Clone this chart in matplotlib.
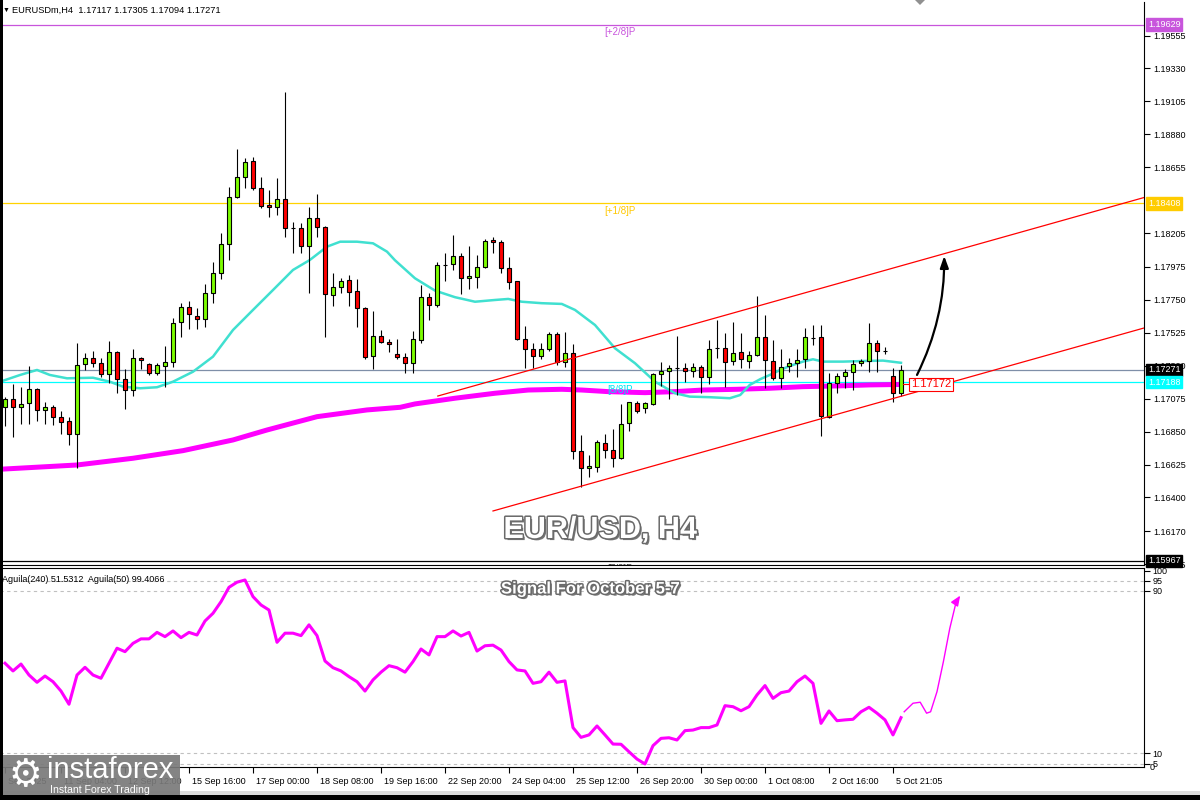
import numpy as np
import matplotlib.pyplot as plt
import matplotlib.patheffects as pe
from matplotlib.patches import Rectangle, Polygon
from matplotlib.transforms import blended_transform_factory, ScaledTranslation

plt.rcParams['font.family'] = ['Liberation Sans', 'DejaVu Sans']

# ---- H4 candles, bar index 0..112 ----
opens = [1.17016, 1.17071, 1.17016, 1.17044, 1.17139, 1.16998, 1.17016, 1.16948, 1.16923, 1.16832,
         1.17310, 1.17355, 1.17320, 1.17242, 1.17392, 1.17208, 1.17134, 1.17355, 1.17310, 1.17248,
         1.17300, 1.17328, 1.17601, 1.17703, 1.17642, 1.17617, 1.17795, 1.17931, 1.18130, 1.18455,
         1.18591, 1.18700, 1.18512, 1.18398, 1.18382, 1.18437, 1.18240, 1.18243, 1.18118, 1.18307,
         1.18246, 1.17783, 1.17840, 1.17886, 1.17811, 1.17692, 1.17367, 1.17505, 1.17464, 1.17378,
         1.17362, 1.17317, 1.17476, 1.17772, 1.17715, 1.17990, 1.17993, 1.18050, 1.17897, 1.17908,
         1.17972, 1.18159, 1.18145, 1.17966, 1.17879, 1.17483, 1.17412, 1.17369, 1.17412, 1.17517,
         1.17328, 1.17389, 1.16718, 1.16600, 1.16610, 1.16770, 1.16725, 1.16668, 1.16907, 1.17044,
         1.17009, 1.17037, 1.17244, 1.17264, 1.17283, 1.17283, 1.17266, 1.17294, 1.17225, 1.17418,
         1.17419, 1.17335, 1.17392, 1.17335, 1.17371, 1.17494, 1.17332, 1.17218, 1.17298, 1.17317,
         1.17344, 1.17490, 1.17494, 1.16948, 1.17180, 1.17232, 1.17255, 1.17317, 1.17332, 1.17453,
         1.17401, 1.17232, 1.17117]
highs = [1.17089, 1.17175, 1.17157, 1.17298, 1.17150, 1.17055, 1.17032, 1.16993, 1.16948, 1.17453,
         1.17385, 1.17401, 1.17355, 1.17469, 1.17401, 1.17278, 1.17412, 1.17362, 1.17320, 1.17320,
         1.17435, 1.17624, 1.17731, 1.17742, 1.17692, 1.17858, 1.18007, 1.18205, 1.18519, 1.18778,
         1.18717, 1.18724, 1.18591, 1.18500, 1.18580, 1.19172, 1.18280, 1.18277, 1.18386, 1.18473,
         1.18254, 1.17931, 1.17897, 1.17920, 1.17891, 1.17703, 1.17676, 1.17544, 1.17481, 1.17481,
         1.17389, 1.17537, 1.17852, 1.17799, 1.18011, 1.18068, 1.18193, 1.18072, 1.18118, 1.18057,
         1.18164, 1.18181, 1.18159, 1.18045, 1.17879, 1.17572, 1.17453, 1.17453, 1.17529, 1.17529,
         1.17529, 1.17449, 1.16827, 1.16690, 1.16793, 1.16832, 1.16866, 1.17037, 1.17055, 1.17059,
         1.17055, 1.17253, 1.17324, 1.17305, 1.17503, 1.17320, 1.17317, 1.17305, 1.17476, 1.17613,
         1.17522, 1.17601, 1.17522, 1.17403, 1.17776, 1.17647, 1.17476, 1.17412, 1.17355, 1.17412,
         1.17556, 1.17578, 1.17578, 1.17253, 1.17253, 1.17278, 1.17339, 1.17344, 1.17590, 1.17476,
         1.17430, 1.17283, 1.17305]
lows = [1.16888, 1.16815, 1.16900, 1.16900, 1.16925, 1.16900, 1.16895, 1.16832, 1.16759, 1.16600,
        1.17271, 1.17294, 1.17225, 1.17180, 1.17116, 1.17003, 1.17093, 1.17276, 1.17237, 1.17237,
        1.17153, 1.17294, 1.17498, 1.17549, 1.17549, 1.17563, 1.17727, 1.17893, 1.18022, 1.18448,
        1.18516, 1.18500, 1.18375, 1.18318, 1.18330, 1.18181, 1.18068, 1.18068, 1.17795, 1.18181,
        1.17494, 1.17708, 1.17799, 1.17708, 1.17563, 1.17344, 1.17278, 1.17453, 1.17396, 1.17344,
        1.17248, 1.17253, 1.17458, 1.17613, 1.17703, 1.17881, 1.17954, 1.17788, 1.17824, 1.17829,
        1.17966, 1.18068, 1.17931, 1.17824, 1.17476, 1.17283, 1.17287, 1.17344, 1.17403, 1.17305,
        1.17294, 1.16661, 1.16474, 1.16542, 1.16572, 1.16672, 1.16610, 1.16661, 1.16856, 1.16979,
        1.16975, 1.17032, 1.17162, 1.17071, 1.17100, 1.17191, 1.17225, 1.17112, 1.17175, 1.17351,
        1.17157, 1.17305, 1.17283, 1.17287, 1.17369, 1.17146, 1.17203, 1.17146, 1.17259, 1.17225,
        1.17283, 1.17442, 1.16820, 1.16941, 1.17116, 1.17146, 1.17134, 1.17298, 1.17259, 1.17259,
        1.17380, 1.17055, 1.17094]
closes = [1.17071, 1.17016, 1.17037, 1.17139, 1.16998, 1.17016, 1.16948, 1.16918, 1.16832, 1.17303,
          1.17355, 1.17320, 1.17242, 1.17396, 1.17208, 1.17134, 1.17355, 1.17339, 1.17248, 1.17305,
          1.17328, 1.17594, 1.17703, 1.17653, 1.17617, 1.17795, 1.17931, 1.18130, 1.18455, 1.18591,
          1.18694, 1.18512, 1.18393, 1.18382, 1.18437, 1.18239, 1.18240, 1.18118, 1.18307, 1.18246,
          1.17788, 1.17840, 1.17879, 1.17806, 1.17692, 1.17358, 1.17505, 1.17464, 1.17449, 1.17358,
          1.17317, 1.17481, 1.17768, 1.17715, 1.17988, 1.17990, 1.18050, 1.17897, 1.17913, 1.17972,
          1.18152, 1.18143, 1.17966, 1.17874, 1.17483, 1.17412, 1.17369, 1.17412, 1.17517, 1.17328,
          1.17389, 1.16718, 1.16600, 1.16615, 1.16781, 1.16725, 1.16668, 1.16900, 1.17050, 1.16993,
          1.17044, 1.17242, 1.17264, 1.17283, 1.17283, 1.17266, 1.17294, 1.17225, 1.17412, 1.17418,
          1.17328, 1.17385, 1.17344, 1.17371, 1.17494, 1.17339, 1.17218, 1.17294, 1.17317, 1.17339,
          1.17494, 1.17490, 1.16959, 1.17180, 1.17232, 1.17255, 1.17310, 1.17332, 1.17453, 1.17401,
          1.17401, 1.17112, 1.17271]

# moving averages (bar position, price)
ma_fast_x = [-0.6, 1.9, 4.0, 5.6, 7.75, 11.0, 13.1, 14.75, 16.9, 19.0, 21.0, 23.5, 26.0, 28.5, 31.0,
             33.5, 36.0, 38.1, 40.25, 41.9, 44.0, 46.0, 47.75, 48.75, 51.25, 53.75, 56.25, 58.75,
             61.25, 62.9, 64.6, 67.1, 69.6, 71.25, 73.75, 76.25, 78.75, 81.25, 83.75, 85.6, 88.1,
             90.6, 91.9, 93.1, 94.4, 95.6, 96.9, 98.1, 99.75, 101.0, 102.25, 104.75, 107.25, 109.75, 112.0]
ma_fast_y = [1.17191, 1.17237, 1.17271, 1.17237, 1.17214, 1.17218, 1.17191, 1.17157, 1.17146, 1.17153,
             1.17191, 1.17259, 1.17362, 1.17544, 1.17681, 1.17817, 1.17954, 1.18022, 1.18113, 1.18147,
             1.18147, 1.18136, 1.18079, 1.18020, 1.17897, 1.17813, 1.17768, 1.17737, 1.17749, 1.17756,
             1.17737, 1.17727, 1.17722, 1.17681, 1.17578, 1.17419, 1.17317, 1.17191, 1.17112, 1.17089,
             1.17085, 1.17078, 1.17100, 1.17169, 1.17208, 1.17237, 1.17271, 1.17298, 1.17328, 1.17344,
             1.17328, 1.17328, 1.17332, 1.17335, 1.17320]
ma_slow_x = [-0.6, 9.0, 16.0, 22.25, 28.5, 32.75, 39.0, 45.25, 49.4, 51.25, 56.25, 61.25, 65.4,
             69.6, 72.1, 75.4, 80.0, 83.75, 87.25, 91.5, 95.6, 99.75, 104.0, 108.1, 112.0]
ma_slow_y = [1.16593, 1.16622, 1.16668, 1.16720, 1.16793, 1.16861, 1.16952, 1.16998, 1.17016, 1.17039,
             1.17078, 1.17112, 1.17134, 1.17139, 1.17134, 1.17123, 1.17116, 1.17123, 1.17134, 1.17139,
             1.17146, 1.17157, 1.17162, 1.17169, 1.17172]

# oscillator (lower pane)
aguila = [54.4, 50.6, 54.0, 48.6, 45.0, 48.1, 45.3, 40.7, 34.2, 48.6,
          52.4, 48.6, 47.0, 54.4, 61.8, 60.1, 64.2, 66.4, 66.4, 69.6,
          67.5, 70.3, 67.0, 69.6, 68.3, 75.2, 79.0, 84.7, 91.8, 94.3,
          95.4, 87.2, 83.1, 80.6, 64.7, 69.2, 69.2, 68.0, 73.3, 68.0,
          55.5, 52.2, 50.6, 47.8, 45.3, 40.7, 46.2, 50.0, 53.2, 52.2,
          50.0, 55.2, 61.4, 58.5, 67.5, 67.5, 70.3, 67.8, 69.6, 60.4,
          63.0, 63.3, 60.9, 55.2, 51.1, 50.6, 44.5, 45.3, 50.0, 45.0,
          45.7, 22.7, 17.9, 19.1, 23.5, 19.1, 14.6, 14.5, 10.8, 7.2,
          4.8, 13.8, 17.4, 17.7, 16.6, 21.2, 21.5, 22.7, 22.7, 24.0,
          33.5, 33.0, 31.0, 33.0, 38.8, 43.4, 37.1, 39.9, 40.7, 45.3,
          48.1, 44.5, 24.8, 30.9, 26.1, 26.5, 26.8, 30.5, 32.7, 29.8,
          26.5, 19.1, 27.6]

# horizontal levels
level_prices = [1.19629, 1.18408, 1.17271, 1.17188, 1.15967]
level_colors = ['#C855DC', '#FFD200', '#7F8FA8', '#00FFFF', '#000000']
level_names = ['[+2/8]P', '[+1/8]P', None, '[8/8]P', '[7/8]P']
label_colors = ['#C855DC', '#FFC800', None, '#00E5EE', '#404040']
box_colors = ['#C855DC', '#FFCC00', '#000000', '#00FFFF', '#000000']

price_ticks = [1.19555, 1.19330, 1.19105, 1.18880, 1.18655, 1.18205, 1.17975, 1.17750,
               1.17525, 1.17300, 1.17075, 1.16850, 1.16625, 1.16400, 1.16170, 1.15945]

# trend channel and forecast marks
chan_upper = ([54.1, 142.4], [1.17093, 1.18449])
chan_lower = ([61.0, 142.4], [1.16308, 1.17558])
arrow_from = (114.0, 1.17237)
arrow_to = (117.4, 1.18050)
osc_path_x = [112.4, 113.5, 114.4, 115.2, 115.7, 116.5, 117.3, 118.1, 118.9]
osc_path_y = [30.5, 34.7, 35.2, 29.8, 30.5, 40.4, 55.2, 71.6, 84.7]
osc_tip = (119.4, 87.7)
ma_value = 1.17172

time_pos = [0, 7, 15, 23, 31, 39, 47, 55, 63, 71, 79, 87, 95, 103, 111]
time_labels = ['Sep 2025', '11 Sep 04:00', '12 Sep 12:00', '15 Sep 16:00', '17 Sep 00:00',
               '18 Sep 08:00', '19 Sep 16:00', '22 Sep 20:00', '24 Sep 04:00', '25 Sep 12:00',
               '26 Sep 20:00', '30 Sep 00:00', '1 Oct 08:00', '2 Oct 16:00', '5 Oct 21:05']

W, H = 1200, 800
fig = plt.figure(figsize=(12, 8), dpi=100)


def fx(px):
    return px / W


def fy(py):
    return 1 - py / H


ax = fig.add_axes([0, fy(565), fx(1144), (565 - 2) / H])
ax2 = fig.add_axes([0, fy(767), fx(1144), (767 - 568) / H])

xmin, xmax = -0.625, 142.375
ax.set_xlim(xmin, xmax)
ax.set_ylim(1.15939, 1.19784)
ax2.set_xlim(xmin, xmax)
ax2.set_ylim(3.3, 101.3)

# ---- main pane ----
for p, col in zip(level_prices, level_colors):
    ax.axhline(p, color=col, lw=0.9, zorder=1)

ax.plot(ma_slow_x, ma_slow_y, color='#FF00FF', lw=3.6, zorder=2, solid_capstyle='butt')
ax.plot(ma_fast_x, ma_fast_y, color='#40E0D0', lw=1.8, zorder=2)

idx = np.arange(len(opens))
o = np.array(opens)
c = np.array(closes)
body_col = np.where(c >= o, '#7CFC00', '#FF0000')
ax.vlines(idx, lows, highs, color='black', lw=0.8, zorder=3)
ax.bar(idx, c - o, bottom=o, width=0.62, color=body_col, edgecolor='black',
       linewidth=0.8, zorder=4)

ax.plot(*chan_upper, color='red', lw=0.9, zorder=5)
ax.plot(*chan_lower, color='red', lw=0.9, zorder=5)

ax.annotate('', xy=arrow_to, xytext=arrow_from,
            arrowprops=dict(arrowstyle='-|>,head_length=0.7,head_width=0.25', color='black',
                            lw=1.6, connectionstyle='arc3,rad=0.12', shrinkA=0, shrinkB=0),
            zorder=6)

ax.plot([len(opens) - 0.7, 113.2], [ma_value, ma_value], color='red', lw=0.8, zorder=5)
ax.text(113.25, ma_value, f'{ma_value:.5f}', color='red', fontsize=8, va='center', ha='left',
        zorder=7, bbox=dict(boxstyle='square,pad=0.15', fc='white', ec='red', lw=0.8))

for p, name, col in zip(level_prices, level_names, label_colors):
    if name:
        ax.annotate(name, xy=(76.9, p), xytext=(0, -2), textcoords='offset points',
                    ha='center', va='top', fontsize=7, color=col, zorder=5,
                    annotation_clip=False, clip_on=True)

ax.yaxis.tick_right()
ax.set_yticks(price_ticks)
ax.set_yticklabels([f'{v:.5f}' for v in price_ticks])
ax.tick_params(axis='y', direction='out', length=4, width=0.8, labelsize=6.5, pad=3)
ax.set_xticks([])
trans = blended_transform_factory(ax.transAxes, ax.transData)
for p, col in zip(level_prices, box_colors):
    ax.text(1.0 + 4 / 1144, p, f'{p:.5f}', transform=trans, color='white', fontsize=6.5,
            ha='left', va='center', clip_on=False, zorder=8,
            bbox=dict(boxstyle='square,pad=0.2', fc=col, ec=col))

ax.spines['top'].set_visible(False)
ax.spines['left'].set_linewidth(3)
for s in ['right', 'bottom']:
    ax.spines[s].set_linewidth(0.8)

# ---- oscillator pane ----
for v in [95, 90, 10, 5]:
    ax2.axhline(v, color='#C0C0C0', lw=0.8, ls=(0, (3, 3)), zorder=1)
ax2.plot(idx, aguila, color='#FF00FF', lw=2.2, zorder=3)
ax2.plot(osc_path_x, osc_path_y, color='#FF00FF', lw=1.0, zorder=3)
ax2.annotate('', xy=osc_tip, xytext=(osc_path_x[-1], osc_path_y[-1]),
             arrowprops=dict(arrowstyle='-|>,head_length=0.6,head_width=0.25', color='#FF00FF',
                             lw=1.0, shrinkA=0, shrinkB=0))

ax2.yaxis.tick_right()
ax2.set_yticks([100, 95, 90, 10, 5])
ax2.set_yticklabels(['100', '95', '90', '10', '5'])
ax2.tick_params(axis='y', direction='out', length=4, width=0.8, labelsize=6.5, pad=2)
ax2.text(1.0 + 6 / 1144, 3.3, '0', transform=blended_transform_factory(ax2.transAxes, ax2.transData),
         fontsize=6.5, va='center', ha='left', clip_on=False)
ax2.set_xticks(time_pos)
ax2.set_xticklabels(time_labels, ha='left', fontsize=6.5)
ax2.tick_params(axis='x', direction='out', length=4, width=0.8, pad=3)
for lab in ax2.get_xticklabels():
    lab.set_transform(lab.get_transform() + ScaledTranslation(2 / 72, 0, fig.dpi_scale_trans))
ax2.spines['left'].set_linewidth(3)
for s in ['right', 'bottom', 'top']:
    ax2.spines[s].set_linewidth(0.8)

# ---- captions ----
fig.text(fx(3), fy(10), '\u25bc', fontsize=5, va='center', ha='left')
fig.text(fx(12), fy(10), 'EURUSDm,H4  1.17117 1.17305 1.17094 1.17271', fontsize=6.7,
         va='center', ha='left')
fig.text(fx(2), fy(579), 'Aguila(240) 51.5312  Aguila(50) 99.4066', fontsize=6.5,
         va='center', ha='left')

emboss = [pe.SimplePatchShadow(offset=(1.5, -1.5), shadow_rgbFace='#555555', alpha=0.8),
          pe.Stroke(linewidth=2.2, foreground='#6a6a6a'), pe.Normal()]
fig.text(fx(600), fy(530), 'EUR/USD, H4', fontsize=22, fontweight='bold', color='white',
         ha='center', va='center', path_effects=emboss)
fig.text(fx(590), fy(589), 'Signal For October 5-7', fontsize=12, fontweight='bold',
         color='white', ha='center', va='center', path_effects=emboss)

# logo, frame
fig.patches.append(Rectangle((0, fy(797)), fx(180), 42 / H, transform=fig.transFigure,
                             fc='#7a7a7a', ec='none', alpha=0.92, zorder=5))
fig.text(fx(25), fy(776), '\u2699', fontsize=27, color='white', ha='center', va='center',
         family='DejaVu Sans', zorder=6)
fig.text(fx(47), fy(770), 'instaforex', fontsize=21, color='white', ha='left', va='center',
         zorder=6)
fig.text(fx(50), fy(790), 'Instant Forex Trading', fontsize=7.6, color='white', ha='left',
         va='center', zorder=6)
fig.patches.append(Rectangle((0, 0), fx(3), 1, transform=fig.transFigure, fc='black',
                             ec='none', zorder=7))
fig.patches.append(Rectangle((0, 0), 1, 5 / H, transform=fig.transFigure, fc='black',
                             ec='none', zorder=7))
fig.patches.append(Rectangle((0, 5 / H), 1, 4 / H, transform=fig.transFigure, fc='#dcdcdc',
                             ec='none', zorder=4))
fig.patches.append(Polygon([(fx(915), 1), (fx(925), 1), (fx(920), fy(5))], closed=True,
                           transform=fig.transFigure, fc='#909090', ec='none', zorder=7))

fig.savefig('out.png', dpi=100)
